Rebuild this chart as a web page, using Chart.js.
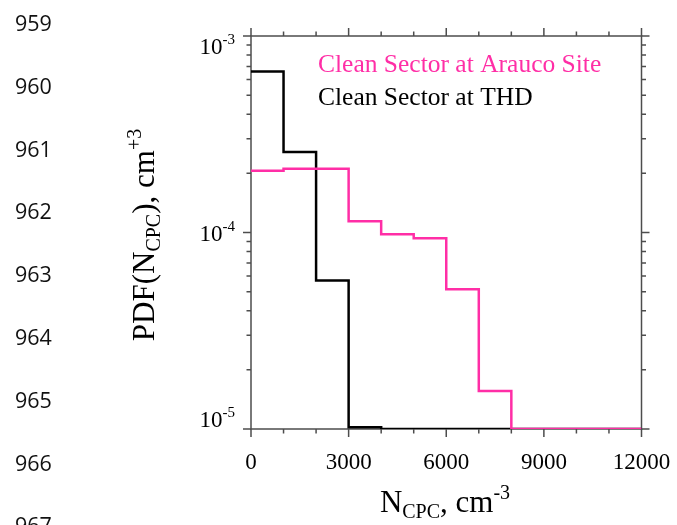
<!DOCTYPE html>
<html>
<head>
<meta charset="utf-8">
<script src="https://cdn.jsdelivr.net/npm/chart.js@4/dist/chart.umd.min.js"></script>
<style>
  html, body { margin: 0; padding: 0; background: #ffffff; }
  #wrap { position: relative; width: 677px; height: 525px; }
</style>
</head>
<body>
<div id="wrap"><canvas id="pdf"></canvas></div>
<script>
// Bin starts of the N_CPC histogram (cm^-3), 1000-wide bins
const binStarts = [0, 1000, 2000, 3000, 4000, 5000, 6000, 7000, 8000, 9000, 10000, 11000];
const binWidth = 1000;

// PDF values per bin (cm^+3)
const araucoPdf = [2.06e-4, 2.11e-4, 2.11e-4, 1.14e-4, 9.8e-5, 9.35e-5, 5.15e-5, 1.56e-5, 1.0e-5, 1.0e-5, 1.0e-5, 1.0e-5];
const thdPdf    = [6.6e-4, 2.57e-4, 5.7e-5, 1.02e-5, 1.0e-5, 1.0e-5, 1.0e-5, 1.0e-5, 1.0e-5, 1.0e-5, 1.0e-5, 1.0e-5];

// Axis labelling
const xTickLabels = [0, 3000, 6000, 9000, 12000];
const yDecadeExps = [-3, -4, -5];
const seriesNames = ['Clean Sector at Arauco Site', 'Clean Sector at THD'];
const seriesColors = ['#ff2ea6', '#000000'];

// Manuscript line numbers down the left margin
const lineNumbers = ['959', '960', '961', '962', '963', '964', '965', '966', '967'];

const SERIF = '"Liberation Serif", "Times New Roman", serif';

// Step histogram: each bin value holds from its start to the next edge
function stepPoints(values) {
  const pts = binStarts.map((x, i) => ({ x: x, y: values[i] }));
  const last = binStarts.length - 1;
  pts.push({ x: binStarts[last] + binWidth, y: values[last] });
  return pts;
}

function drawSupText(ctx, x, y, base, sup, baseSize, supSize, align) {
  ctx.font = baseSize + 'px ' + SERIF;
  const wb = ctx.measureText(base).width;
  ctx.font = supSize + 'px ' + SERIF;
  const ws = ctx.measureText(sup).width;
  let x0 = x;
  if (align === 'right') x0 = x - wb - ws;
  else if (align === 'center') x0 = x - (wb + ws) / 2;
  ctx.textAlign = 'left';
  ctx.textBaseline = 'alphabetic';
  ctx.font = baseSize + 'px ' + SERIF;
  ctx.fillText(base, x0, y);
  ctx.font = supSize + 'px ' + SERIF;
  ctx.fillText(sup, x0 + wb, y - baseSize * 0.42);
}

const framePlugin = {
  id: 'frame',
  // frame and ticks go under the histogram lines
  beforeDatasetsDraw(chart) {
    const ctx = chart.ctx;
    const a = chart.chartArea;
    const xs = chart.scales.x, ys = chart.scales.y;
    ctx.save();
    ctx.strokeStyle = '#4d4d4d';
    ctx.lineWidth = 1.5;
    ctx.strokeRect(a.left, a.top, a.right - a.left, a.bottom - a.top);

    // x ticks, outward on bottom and top
    ctx.beginPath();
    for (let v = xs.min; v <= xs.max; v += binWidth) {
      const px = xs.getPixelForValue(v);
      const len = (v % 3000 === 0) ? 8 : 4.5;
      ctx.moveTo(px, a.bottom); ctx.lineTo(px, a.bottom + len);
      ctx.moveTo(px, a.top); ctx.lineTo(px, a.top - len);
    }
    // y ticks, outward on left and right
    for (let k = -5; k <= -3; k++) {
      for (let m = 1; m <= 9; m++) {
        if (k === -3 && m > 1) break;
        const py = ys.getPixelForValue(m * Math.pow(10, k));
        const len = (m === 1) ? 8 : 4.5;
        ctx.moveTo(a.left, py); ctx.lineTo(a.left - len, py);
        ctx.moveTo(a.right, py); ctx.lineTo(a.right + len, py);
      }
    }
    ctx.stroke();
    ctx.restore();
  },
  afterDatasetsDraw(chart) {
    const ctx = chart.ctx;
    const a = chart.chartArea;
    const xs = chart.scales.x, ys = chart.scales.y;
    ctx.save();
    ctx.fillStyle = '#000';
    // x tick labels
    ctx.font = '23px ' + SERIF;
    ctx.textAlign = 'center';
    ctx.textBaseline = 'alphabetic';
    xTickLabels.forEach(v => {
      ctx.fillText(String(v), xs.getPixelForValue(v), 469);
    });

    // y tick labels as powers of ten, kept inside the frame height
    yDecadeExps.forEach(e => {
      const py = ys.getPixelForValue(Math.pow(10, e));
      const cy = Math.min(Math.max(py, a.top + 10), a.bottom - 10.5);
      drawSupText(ctx, 235, cy + 8, '10', '-' + Math.abs(e), 23, 15, 'right');
    });

    // x title: N_CPC, cm^-3
    {
      const big = 31, small = 20;
      ctx.font = big + 'px ' + SERIF;
      const wN = ctx.measureText('N').width;
      const wMid = ctx.measureText(', cm').width;
      ctx.font = small + 'px ' + SERIF;
      const wSub = ctx.measureText('CPC').width;
      const wSup = ctx.measureText('-3').width;
      const total = wN + wSub + wMid + wSup;
      let x0 = 445 - total / 2;
      const yb = 512;
      ctx.textAlign = 'left';
      ctx.font = big + 'px ' + SERIF; ctx.fillText('N', x0, yb); x0 += wN;
      ctx.font = small + 'px ' + SERIF; ctx.fillText('CPC', x0, yb + 6); x0 += wSub;
      ctx.font = big + 'px ' + SERIF; ctx.fillText(', cm', x0, yb); x0 += wMid;
      ctx.font = small + 'px ' + SERIF; ctx.fillText('-3', x0, yb - 13);
    }

    // y title: PDF(N_CPC), cm^+3 (rotated)
    {
      const big = 31, small = 20;
      ctx.save();
      ctx.translate(154, 235);
      ctx.rotate(-Math.PI / 2);
      const parts = [
        ['PDF(N', big, 0], ['CPC', small, 6], ['), cm', big, 0], ['+3', small, -13]
      ];
      let total = 0;
      parts.forEach(p => { ctx.font = p[1] + 'px ' + SERIF; total += ctx.measureText(p[0]).width; });
      let x0 = -total / 2;
      ctx.textAlign = 'left';
      parts.forEach(p => {
        ctx.font = p[1] + 'px ' + SERIF;
        ctx.fillText(p[0], x0, p[2]);
        x0 += ctx.measureText(p[0]).width;
      });
      ctx.restore();
    }

    // series key as coloured text
    ctx.font = '25.5px ' + SERIF;
    ctx.textAlign = 'left';
    seriesNames.forEach((name, i) => {
      ctx.fillStyle = seriesColors[i];
      ctx.fillText(name, 318, 72 + i * 33);
    });

    // margin line numbers
    ctx.fillStyle = '#111111';
    ctx.font = '21.5px "Open Sans", "Noto Sans", sans-serif';
    lineNumbers.forEach((n, i) => {
      ctx.fillText(n, 15, 31 + i * 62.8);
    });
    ctx.restore();
  }
};

new Chart(document.getElementById('pdf'), {
  type: 'line',
  data: {
    datasets: [
      {
        label: seriesNames[1],
        data: stepPoints(thdPdf),
        borderColor: seriesColors[1],
        borderWidth: 2.5,
        stepped: 'before',
        pointRadius: 0,
        fill: false,
        order: 2
      },
      {
        label: seriesNames[0],
        data: stepPoints(araucoPdf),
        borderColor: seriesColors[0],
        borderWidth: 2.5,
        stepped: 'before',
        pointRadius: 0,
        fill: false,
        order: 1
      }
    ]
  },
  options: {
    responsive: true,
    maintainAspectRatio: false,
    animation: false,
    devicePixelRatio: 1,
    layout: { padding: { left: 251, right: 35.5, top: 36, bottom: 96 } },
    plugins: { legend: { display: false }, tooltip: { enabled: false } },
    scales: {
      x: { type: 'linear', min: 0, max: 12000, display: false },
      y: { type: 'logarithmic', min: 1e-5, max: 1e-3, display: false }
    }
  },
  plugins: [framePlugin]
});
</script>
</body>
</html>
